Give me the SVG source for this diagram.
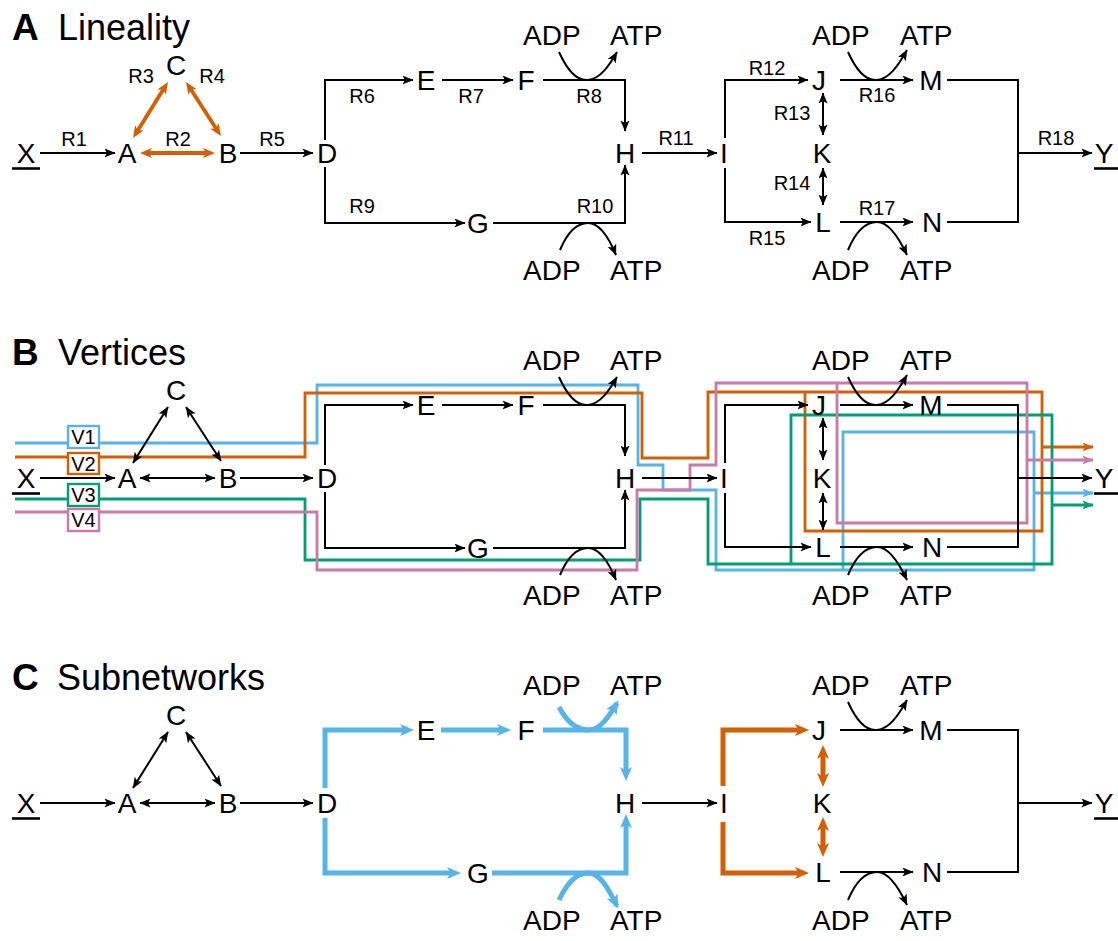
<svg xmlns="http://www.w3.org/2000/svg" width="1118" height="941" viewBox="0 0 1118 941">
<style>
text{font-family:"Liberation Sans",Arial,Helvetica,sans-serif;fill:#000}
.n{font-size:28px;text-anchor:middle}
.m{font-size:28px}
.r{font-size:20px;text-anchor:middle}
.t{font-size:36px}
.tb{font-size:37px;font-weight:bold}
.v{font-size:20px;text-anchor:middle}
.k{fill:none;stroke:#000;stroke-width:2}
.ke{marker-end:url(#ak)}
.kb{marker-start:url(#ak);marker-end:url(#ak)}
.ul{stroke:#000;stroke-width:2.6}
.oA{fill:none;stroke:#d55e00;stroke-width:3.8;marker-start:url(#aoA);marker-end:url(#aoA)}
.cB{fill:none;stroke:#56b4e9;stroke-width:5}
.cO{fill:none;stroke:#d55e00;stroke-width:5}
.pB{fill:none;stroke:#56b4e9;stroke-width:2.8}
.pO{fill:none;stroke:#d55e00;stroke-width:2.8}
.pG{fill:none;stroke:#009e73;stroke-width:2.8}
.pP{fill:none;stroke:#cc79a7;stroke-width:2.8}
.bx{fill:#fff;stroke-width:2.4}
</style>
<defs>
<marker id="ak" viewBox="0 0 11 9" markerWidth="11" markerHeight="9" refX="10.5" refY="4.5" orient="auto-start-reverse" markerUnits="userSpaceOnUse"><path d="M0,0 L11,4.5 L0,9 L2.5,4.5z" fill="#000"/></marker>
<marker id="aoA" viewBox="0 0 12 10" markerWidth="12" markerHeight="10" refX="6" refY="5" orient="auto-start-reverse" markerUnits="userSpaceOnUse"><path d="M0,0 L12,5 L0,10 L3,5z" fill="#d55e00"/></marker>
<marker id="abT" viewBox="0 0 14 12" markerWidth="14" markerHeight="12" refX="7" refY="6" orient="auto-start-reverse" markerUnits="userSpaceOnUse"><path d="M0,0 L14,6 L0,12 L3.5,6z" fill="#56b4e9"/></marker>
<marker id="abC" viewBox="0 0 14 12" markerWidth="14" markerHeight="12" refX="11" refY="6" orient="auto" markerUnits="userSpaceOnUse"><path d="M0,0 L14,6 L0,12 L3.5,6z" fill="#56b4e9"/></marker>
<marker id="aoT" viewBox="0 0 14 12" markerWidth="14" markerHeight="12" refX="7" refY="6" orient="auto-start-reverse" markerUnits="userSpaceOnUse"><path d="M0,0 L14,6 L0,12 L3.5,6z" fill="#d55e00"/></marker>
<marker id="apB" viewBox="0 0 11 9" markerWidth="11" markerHeight="9" refX="10.5" refY="4.5" orient="auto" markerUnits="userSpaceOnUse"><path d="M0,0 L11,4.5 L0,9 L2.5,4.5z" fill="#56b4e9"/></marker>
<marker id="apO" viewBox="0 0 11 9" markerWidth="11" markerHeight="9" refX="10.5" refY="4.5" orient="auto" markerUnits="userSpaceOnUse"><path d="M0,0 L11,4.5 L0,9 L2.5,4.5z" fill="#d55e00"/></marker>
<marker id="apG" viewBox="0 0 11 9" markerWidth="11" markerHeight="9" refX="10.5" refY="4.5" orient="auto" markerUnits="userSpaceOnUse"><path d="M0,0 L11,4.5 L0,9 L2.5,4.5z" fill="#009e73"/></marker>
<marker id="apP" viewBox="0 0 11 9" markerWidth="11" markerHeight="9" refX="10.5" refY="4.5" orient="auto" markerUnits="userSpaceOnUse"><path d="M0,0 L11,4.5 L0,9 L2.5,4.5z" fill="#cc79a7"/></marker>
</defs>
<rect width="1118" height="941" fill="#fff"/>

<!-- ================= PANEL A ================= -->
<g id="panelA">
<g id="a-title"><text class="tb" x="12" y="40">A</text><text class="t" x="58" y="40">Lineality</text></g>
<g id="a-connectors">
<path class="k ke" d="M40,153 H115"/>
<path class="oA" d="M146,153 H209"/>
<path class="oA" d="M136.2,132.9 L164.8,87.1"/>
<path class="oA" d="M189.3,87 L217.7,131"/>
<path class="k ke" d="M240,153 H313"/>
<path class="k ke" d="M325,140 V80 H413"/>
<path class="k ke" d="M442,80 H513"/>
<path class="k ke" d="M543,80 H625 V131"/>
<path class="k ke" d="M325,167 V223 H465"/>
<path class="k ke" d="M493,223 H625 V165"/>
<path class="k ke" d="M559,52 C568,72 578,81 588,80 C600,79 609,66 617,52"/>
<path class="k ke" d="M560,250 C568,231 578,223 588,223 C600,223 609,238 616,255"/>
<path class="k ke" d="M642,153 H717"/>
<path class="k ke" d="M725,138 V80 H808"/>
<path class="k ke" d="M725,168 V222 H811"/>
<path class="k kb" d="M823,93 V135"/>
<path class="k kb" d="M823,168 V205"/>
<path class="k ke" d="M840,80 H913"/>
<path class="k ke" d="M840,222 H913"/>
<path class="k ke" d="M848,52 C857,72 867,81 877,80 C889,79 898,66 907,50"/>
<path class="k ke" d="M848,250 C856,231 866,222 877,222 C889,222 899,238 907,255"/>
<path class="k" d="M947,80 H1018 V222 H947"/>
<path class="k ke" d="M1018,153 H1092"/>
</g>
<g id="a-labels">
<text class="r" x="74" y="146">R1</text><text class="r" x="178" y="146">R2</text>
<text class="r" x="141" y="83">R3</text><text class="r" x="212" y="83">R4</text>
<text class="r" x="272" y="146">R5</text><text class="r" x="362" y="103">R6</text>
<text class="r" x="471" y="103">R7</text><text class="r" x="589" y="103">R8</text>
<text class="r" x="362" y="213">R9</text><text class="r" x="595" y="213">R10</text>
<text class="r" x="676" y="145">R11</text><text class="r" x="767" y="75">R12</text>
<text class="r" x="792" y="120">R13</text><text class="r" x="792" y="190">R14</text>
<text class="r" x="767" y="245">R15</text><text class="r" x="877" y="102">R16</text>
<text class="r" x="877" y="215">R17</text><text class="r" x="1056" y="145">R18</text>
</g>
<g id="a-X"><text class="n" x="26" y="163">X</text><line class="ul" x1="12" y1="168.5" x2="40" y2="168.5"/></g>
<g id="a-A"><text class="n" x="127" y="163">A</text></g>
<g id="a-B"><text class="n" x="228" y="163">B</text></g>
<g id="a-C"><text class="n" x="176" y="75">C</text></g>
<g id="a-D"><text class="n" x="327" y="163">D</text></g>
<g id="a-E"><text class="n" x="426" y="90">E</text></g>
<g id="a-F"><text class="n" x="526" y="90">F</text></g>
<g id="a-G"><text class="n" x="478" y="233">G</text></g>
<g id="a-H"><text class="n" x="625" y="163">H</text></g>
<g id="a-I"><text class="n" x="724" y="163">I</text></g>
<g id="a-J"><text class="n" x="819" y="90">J</text></g>
<g id="a-K"><text class="n" x="822" y="163">K</text></g>
<g id="a-L"><text class="n" x="823" y="232">L</text></g>
<g id="a-M"><text class="n" x="931" y="90">M</text></g>
<g id="a-N"><text class="n" x="932" y="232">N</text></g>
<g id="a-Y"><text class="n" x="1104" y="163">Y</text><line class="ul" x1="1094" y1="168.5" x2="1118" y2="168.5"/></g>
<g id="a-cof"><text class="m" x="523" y="45">ADP</text><text class="m" x="610" y="45">ATP</text><text class="m" x="523" y="280">ADP</text><text class="m" x="610" y="280">ATP</text><text class="m" x="812" y="45">ADP</text><text class="m" x="900" y="45">ATP</text><text class="m" x="812" y="280">ADP</text><text class="m" x="900" y="280">ATP</text></g>
</g>

<!-- ================= PANEL B ================= -->
<g id="panelB" transform="translate(0,325)">
<g id="b-title"><text class="tb" x="12" y="40">B</text><text class="t" x="58" y="40">Vertices</text></g>
<g id="b-vertices">
<path class="pB" d="M15,118 H317 V60 H638 V140 H663 V165 H716 V245 H1034 V107 H843 V245"/>
<path class="pB" d="M1034,168 H1093" marker-end="url(#apB)"/>
<path class="pO" d="M15,132 H305 V68 H642 V133 H708 V67 H1042 V206 H805 V67"/>
<path class="pO" d="M1042,122 H1093" marker-end="url(#apO)"/>
<path class="pG" d="M15,174 H305 V235 H640 V174 H708 V239 H1052 V90 H791 V239"/>
<path class="pG" d="M1052,180 H1093" marker-end="url(#apG)"/>
<path class="pP" d="M15,187 H317 V245 H637 V165 H690 V140 H716 V58 H1027 V198 H837 V58"/>
<path class="pP" d="M1027,135 H1093" marker-end="url(#apP)"/>
</g>
<g id="b-V1"><rect class="bx" x="68" y="101" width="31" height="22" stroke="#56b4e9"/><text class="v" x="83.5" y="119">V1</text></g>
<g id="b-V2"><rect class="bx" x="68" y="128" width="31" height="21" stroke="#d55e00"/><text class="v" x="83.5" y="146">V2</text></g>
<g id="b-V3"><rect class="bx" x="68" y="159" width="31" height="22" stroke="#009e73"/><text class="v" x="83.5" y="177">V3</text></g>
<g id="b-V4"><rect class="bx" x="68" y="184" width="31" height="22" stroke="#cc79a7"/><text class="v" x="83.5" y="202">V4</text></g>
<g id="b-connectors">
<path class="k ke" d="M40,153 H115"/>
<path class="k kb" d="M140,153 H215"/>
<path class="k kb" d="M133,138 L168,82"/>
<path class="k kb" d="M186,82 L221,136"/>
<path class="k ke" d="M240,153 H313"/>
<path class="k ke" d="M325,140 V80 H413"/>
<path class="k ke" d="M442,80 H513"/>
<path class="k ke" d="M543,80 H625 V131"/>
<path class="k ke" d="M325,167 V223 H465"/>
<path class="k ke" d="M493,223 H625 V165"/>
<path class="k ke" d="M559,52 C568,72 578,81 588,80 C600,79 609,66 617,52"/>
<path class="k ke" d="M560,250 C568,231 578,223 588,223 C600,223 609,238 616,255"/>
<path class="k ke" d="M642,153 H717"/>
<path class="k ke" d="M725,138 V80 H808"/>
<path class="k ke" d="M725,168 V222 H811"/>
<path class="k kb" d="M823,93 V135"/>
<path class="k kb" d="M823,168 V205"/>
<path class="k ke" d="M840,80 H913"/>
<path class="k ke" d="M840,222 H913"/>
<path class="k ke" d="M848,52 C857,72 867,81 877,80 C889,79 898,66 907,50"/>
<path class="k ke" d="M848,250 C856,231 866,222 877,222 C889,222 899,238 907,255"/>
<path class="k" d="M947,80 H1018 V222 H947"/>
<path class="k ke" d="M1018,153 H1092"/>
</g>
<g id="b-X"><text class="n" x="26" y="163">X</text><line class="ul" x1="12" y1="168.5" x2="40" y2="168.5"/></g>
<g id="b-A"><text class="n" x="127" y="163">A</text></g>
<g id="b-B"><text class="n" x="228" y="163">B</text></g>
<g id="b-C"><text class="n" x="176" y="75">C</text></g>
<g id="b-D"><text class="n" x="327" y="163">D</text></g>
<g id="b-E"><text class="n" x="426" y="90">E</text></g>
<g id="b-F"><text class="n" x="526" y="90">F</text></g>
<g id="b-G"><text class="n" x="478" y="233">G</text></g>
<g id="b-H"><text class="n" x="625" y="163">H</text></g>
<g id="b-I"><text class="n" x="724" y="163">I</text></g>
<g id="b-J"><text class="n" x="819" y="90">J</text></g>
<g id="b-K"><text class="n" x="822" y="163">K</text></g>
<g id="b-L"><text class="n" x="823" y="232">L</text></g>
<g id="b-M"><text class="n" x="931" y="90">M</text></g>
<g id="b-N"><text class="n" x="932" y="232">N</text></g>
<g id="b-Y"><text class="n" x="1104" y="163">Y</text><line class="ul" x1="1094" y1="168.5" x2="1118" y2="168.5"/></g>
<g id="b-cof"><text class="m" x="523" y="45">ADP</text><text class="m" x="610" y="45">ATP</text><text class="m" x="523" y="280">ADP</text><text class="m" x="610" y="280">ATP</text><text class="m" x="812" y="45">ADP</text><text class="m" x="900" y="45">ATP</text><text class="m" x="812" y="280">ADP</text><text class="m" x="900" y="280">ATP</text></g>
</g>

<!-- ================= PANEL C ================= -->
<g id="panelC" transform="translate(0,650)">
<g id="c-title"><text class="tb" x="12" y="40">C</text><text class="t" x="57" y="40">Subnetworks</text></g>
<g id="c-connectors">
<path class="k ke" d="M40,153 H115"/>
<path class="k kb" d="M140,153 H215"/>
<path class="k kb" d="M133,138 L168,82"/>
<path class="k kb" d="M186,82 L221,136"/>
<path class="k ke" d="M240,153 H313"/>
<path class="cB" d="M325,138 V80 H407" marker-end="url(#abT)"/>
<path class="cB" d="M441,80 H504" marker-end="url(#abT)"/>
<path class="cB" d="M543,80 H626 V124" marker-end="url(#abT)"/>
<path class="cB" d="M325,168 V223 H454" marker-end="url(#abT)"/>
<path class="cB" d="M492,223 H626 V171" marker-end="url(#abT)"/>
<path class="cB" d="M559,57 C567,72 577,80 588,80 C600,80 608,68 617,53" marker-end="url(#abC)"/>
<path class="cB" d="M559,250 C567,233 577,223 588,223 C600,223 608,238 617,256" marker-end="url(#abC)"/>
<path class="k ke" d="M642,153 H717"/>
<path class="cO" d="M723,136 V80 H802" marker-end="url(#aoT)"/>
<path class="cO" d="M723,172 V223 H802" marker-end="url(#aoT)"/>
<path class="cO" d="M823,102 V130" marker-start="url(#aoT)" marker-end="url(#aoT)"/>
<path class="cO" d="M823,174 V200" marker-start="url(#aoT)" marker-end="url(#aoT)"/>
<path class="k ke" d="M840,80 H913"/>
<path class="k ke" d="M840,222 H913"/>
<path class="k ke" d="M848,52 C857,72 867,81 877,80 C889,79 898,66 907,50"/>
<path class="k ke" d="M848,250 C856,231 866,222 877,222 C889,222 899,238 907,255"/>
<path class="k" d="M947,80 H1018 V222 H947"/>
<path class="k ke" d="M1018,153 H1092"/>
</g>
<g id="c-X"><text class="n" x="26" y="163">X</text><line class="ul" x1="12" y1="168.5" x2="40" y2="168.5"/></g>
<g id="c-A"><text class="n" x="127" y="163">A</text></g>
<g id="c-B"><text class="n" x="228" y="163">B</text></g>
<g id="c-C"><text class="n" x="176" y="75">C</text></g>
<g id="c-D"><text class="n" x="327" y="163">D</text></g>
<g id="c-E"><text class="n" x="426" y="90">E</text></g>
<g id="c-F"><text class="n" x="526" y="90">F</text></g>
<g id="c-G"><text class="n" x="478" y="233">G</text></g>
<g id="c-H"><text class="n" x="625" y="163">H</text></g>
<g id="c-I"><text class="n" x="724" y="163">I</text></g>
<g id="c-J"><text class="n" x="819" y="90">J</text></g>
<g id="c-K"><text class="n" x="822" y="163">K</text></g>
<g id="c-L"><text class="n" x="823" y="232">L</text></g>
<g id="c-M"><text class="n" x="931" y="90">M</text></g>
<g id="c-N"><text class="n" x="932" y="232">N</text></g>
<g id="c-Y"><text class="n" x="1104" y="163">Y</text><line class="ul" x1="1094" y1="168.5" x2="1118" y2="168.5"/></g>
<g id="c-cof"><text class="m" x="523" y="45">ADP</text><text class="m" x="610" y="45">ATP</text><text class="m" x="523" y="280">ADP</text><text class="m" x="610" y="280">ATP</text><text class="m" x="812" y="45">ADP</text><text class="m" x="900" y="45">ATP</text><text class="m" x="812" y="280">ADP</text><text class="m" x="900" y="280">ATP</text></g>
</g>
</svg>
